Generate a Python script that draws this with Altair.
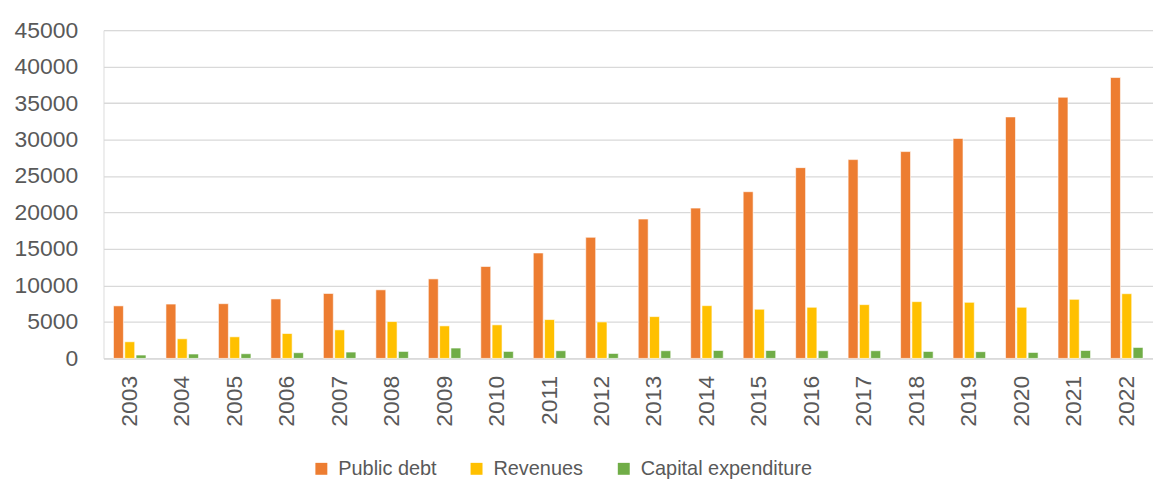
import altair as alt
import pandas as pd

years = [str(y) for y in range(2003, 2023)]
public_debt = [7200, 7450, 7500, 8150, 8900, 9400, 10900, 12600, 14450, 16600,
               19100, 20600, 22850, 26150, 27250, 28350, 30150, 33100, 35800, 38500]
revenues = [2280, 2690, 2960, 3410, 3910, 5050, 4460, 4600, 5320, 5000,
            5730, 7230, 6740, 7010, 7370, 7780, 7690, 7010, 8100, 8870]
capital_expenditure = [460, 600, 640, 780, 870, 955, 1420, 955, 1050, 680,
                       1050, 1080, 1080, 1050, 1050, 955, 920, 820, 1080, 1500]

series_names = ["Public debt", "Revenues", "Capital expenditure"]
series_colors = ["#ED7D31", "#FFC000", "#70AD47"]

rows = []
for name, vals in zip(series_names, [public_debt, revenues, capital_expenditure]):
    for y, v in zip(years, vals):
        rows.append({"Year": y, "Series": name, "Value": v})
df = pd.DataFrame(rows)

FONT = "Liberation Sans"
TXT = "#595959"

chart = alt.Chart(df).mark_bar(stroke="white", strokeWidth=0.6).encode(
    x=alt.X("Year:N", sort=years,
            scale=alt.Scale(paddingInner=0.38, paddingOuter=0.19),
            axis=alt.Axis(title=None, labelAngle=-90, ticks=False, labelPadding=17,
                          labelFontSize=23, labelColor=TXT, labelFont=FONT,
                          domainColor="#D9D9D9", domainWidth=1.3, grid=False)),
    xOffset=alt.XOffset("Series:N", sort=series_names,
                        scale=alt.Scale(paddingInner=0.12)),
    y=alt.Y("Value:Q", scale=alt.Scale(domain=[0, 45000], nice=False),
            axis=alt.Axis(title=None, values=list(range(0, 45001, 5000)), format="d",
                          ticks=False, domain=False, labelPadding=26,
                          labelFontSize=23, labelColor=TXT, labelFont=FONT,
                          gridColor="#D9D9D9", gridWidth=1.3)),
    color=alt.Color("Series:N", sort=series_names,
                    scale=alt.Scale(domain=series_names, range=series_colors),
                    legend=alt.Legend(title=None, orient="none", direction="horizontal",
                                      legendX=209, legendY=431, padding=0,
                                      symbolType="square", symbolSize=144,
                                      symbolStrokeWidth=0, labelLimit=400,
                                      labelFontSize=20, labelColor=TXT, labelFont=FONT,
                                      labelOffset=7, columnPadding=30)),
).properties(
    width=1055, height=330,
    autosize=alt.AutoSizeParams(type="none"),
    padding={"left": 96, "top": 21, "right": 0, "bottom": 120},
).configure_view(stroke=None).configure(background="white")

chart.save("out.html", embed_options={"renderer": "svg", "actions": False})
